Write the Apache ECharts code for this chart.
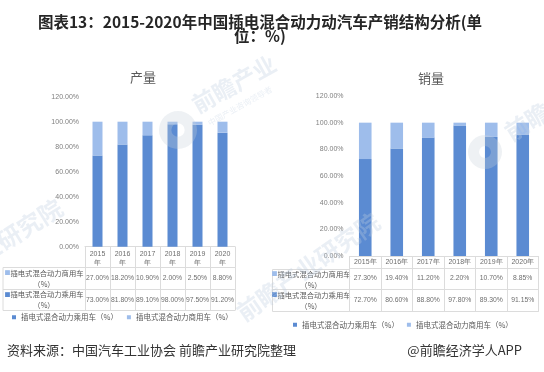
<!DOCTYPE html>
<html><head><meta charset="utf-8">
<script src="https://cdn.jsdelivr.net/npm/echarts@6/dist/echarts.min.js"></script>
<style>html,body{margin:0;padding:0;background:#fff}#c{width:544px;height:372px}</style>
</head><body><div id="c"></div>
<script>
// ---- data ----
const years = ['2015', '2016', '2017', '2018', '2019', '2020'];
const seriesNames = ['插电式混合动力乘用车（%）', '插电式混合动力商用车（%）'];
const prodPassenger = [73.0, 81.8, 89.1, 98.0, 97.5, 91.2];
const prodCommercial = [27.0, 18.2, 10.9, 2.0, 2.5, 8.8];
const salesPassenger = [72.7, 80.6, 88.8, 97.8, 89.3, 91.15];
const salesCommercial = [27.3, 19.4, 11.2, 2.2, 10.7, 8.85];
const yTicks = [0, 20, 40, 60, 80, 100, 120];
const chartTitles = ['产量', '销量'];
const mainTitle = '图表13：2015-2020年中国插电混合动力动汽车产销结构分析(单\n位：%)';
const sourceText = '资料来源：中国汽车工业协会 前瞻产业研究院整理';
const brandText = '@前瞻经济学人APP';
const watermarkText = '前瞻产业研究院';
const watermarkSub = '中国产业咨询领导者';

// ---- style / layout ----
const C_DARK = '#5B8BD2', C_LIGHT = '#9EBDEB';
const NUMF = "'Liberation Sans',Arial,sans-serif";
const CJKF = "'Noto Sans CJK SC',sans-serif";
const LINE = '#dcdcdc';
const panels = [
  {left: 85, top: 96.7, width: 150, height: 150, rows: [20.5, 42.5, 63.5], labelLeft: 3,
   yearFmt: y => y + '\n年', yearMargin: 3, valMargins: [7, 7.5], labelX: 44, titleX: 143, titleY: 77,
   legendLeft: 12, legendTop: 313.5, legendGap: 9, pas: prodPassenger, com: prodCommercial},
  {left: 349.5, top: 96, width: 189, height: 160, rows: [12.5, 33.3, 55], labelLeft: 272.5,
   yearFmt: y => y + '年', yearMargin: 2, valMargins: [6, 7.5], labelX: 311, titleX: 431, titleY: 78,
   legendLeft: 293, legendTop: 321, legendGap: 8, pas: salesPassenger, com: salesCommercial}
];
const fmt = v => v.toFixed(2) + '%';

const grids = [], xAxes = [], yAxes = [], series = [], legends = [], graphics = [];
panels.forEach((p, gi) => {
  grids.push({left: p.left, top: p.top, width: p.width, height: p.height});
  yAxes.push({
    gridIndex: gi, type: 'value', min: yTicks[0], max: yTicks[yTicks.length - 1], interval: yTicks[1] - yTicks[0],
    axisLine: {show: false}, axisTick: {show: false}, splitLine: {show: false},
    axisLabel: {formatter: v => v.toFixed(2) + '%', fontSize: 7, color: '#808080', fontFamily: NUMF, margin: 6}
  });
  const base = xAxes.length;
  const axLine = {show: true, lineStyle: {color: LINE, width: 1}};
  xAxes.push({
    gridIndex: gi, type: 'category', data: years, position: 'bottom', offset: 0,
    axisLine: axLine, axisTick: {show: true, interval: 0, length: p.rows[0], lineStyle: {color: LINE}},
    axisLabel: {interval: 0, formatter: p.yearFmt, fontSize: 7, lineHeight: 9, color: '#6e6e6e', fontFamily: NUMF, margin: p.yearMargin}
  });
  const rowVals = [p.com, p.pas];
  rowVals.forEach((vals, ri) => {
    xAxes.push({
      gridIndex: gi, type: 'category', data: years, position: 'bottom', offset: p.rows[ri],
      axisLine: axLine, axisTick: {show: true, interval: 0, length: p.rows[ri + 1] - p.rows[ri], lineStyle: {color: LINE}},
      axisLabel: {interval: 0, formatter: (v, i) => fmt(vals[i]), fontSize: 6.8, color: '#6e6e6e', fontFamily: NUMF, margin: p.valMargins[ri]}
    });
  });
  xAxes.push({
    gridIndex: gi, type: 'category', data: years, position: 'bottom', offset: p.rows[2],
    axisLine: axLine, axisTick: {show: false}, axisLabel: {show: false}
  });
  series.push({name: seriesNames[0], type: 'bar', stack: 's' + gi, xAxisIndex: base, yAxisIndex: gi,
    data: p.pas, barWidth: '40%', itemStyle: {color: C_DARK}, silent: true});
  series.push({name: seriesNames[1], type: 'bar', stack: 's' + gi, xAxisIndex: base, yAxisIndex: gi,
    data: p.com, barWidth: '40%', itemStyle: {color: C_LIGHT}, silent: true});
  legends.push({left: p.legendLeft, top: p.legendTop, padding: 0, itemWidth: 4, itemHeight: 4, itemGap: p.legendGap,
    icon: 'rect', data: seriesNames, textStyle: {fontSize: 7.5, color: '#595959', fontFamily: CJKF}});
  graphics.push({type: 'text', x: p.titleX, y: p.titleY, style: {text: chartTitles[gi], fontSize: 13, fill: '#595959',
    fontFamily: CJKF, textAlign: 'center', textVerticalAlign: 'middle'}});
  const axisY = p.top + p.height;
  const ys = p.rows.map(r => Math.round(axisY + r) + 0.5);
  ys.forEach(y => graphics.push({type: 'line', shape: {x1: p.labelLeft, y1: y, x2: p.left, y2: y}, style: {stroke: LINE, lineWidth: 1}}));
  graphics.push({type: 'line', shape: {x1: p.labelLeft, y1: ys[0], x2: p.labelLeft, y2: ys[2]}, style: {stroke: LINE, lineWidth: 1}});
  [[seriesNames[1], C_LIGHT], [seriesNames[0], C_DARK]].forEach(([nm, col], ri) => {
    const yc = (ys[ri] + ys[ri + 1]) / 2;
    const parts = nm.split('（');
    graphics.push({type: 'text', x: p.labelX, y: yc, style: {
      text: '{m|■}' + parts[0] + '\n（' + parts[1], fontSize: 7.3, lineHeight: 11, fill: '#595959', fontFamily: CJKF,
      textAlign: 'center', textVerticalAlign: 'middle',
      rich: {m: {fill: col, fontSize: 6, fontFamily: CJKF}}}});
  });
});

// watermarks (faint, on top)
const WM = 'rgba(190,204,224,0.32)';
const wmTexts = [
  {x: 234, y: 84, text: '前瞻产业', size: 23, rot: 0.51},
  {x: -11, y: 250, text: watermarkText, size: 24, rot: 0.56},
  {x: 578, y: 90, text: watermarkText, size: 24, rot: 0.56},
  {x: 308, y: 267, text: watermarkText, size: 24, rot: 0.61}
];
wmTexts.forEach(w => graphics.push({type: 'text', x: w.x, y: w.y, rotation: w.rot, z: 100, silent: true,
  style: {text: w.text, fontSize: w.size, fontWeight: 'bold', fill: WM, fontFamily: CJKF, textAlign: 'center', textVerticalAlign: 'middle'}}));
graphics.push({type: 'text', x: 240, y: 106, rotation: 0.51, z: 100, silent: true,
  style: {text: watermarkSub, fontSize: 8, fill: WM, fontFamily: CJKF, textAlign: 'center', textVerticalAlign: 'middle'}});
[[178, 130, 19], [485, 152, 17]].forEach(([cx, cy, r]) => graphics.push({type: 'ring', z: 100, silent: true,
  shape: {cx: cx, cy: cy, r: r, r0: r * 0.35}, style: {fill: 'rgba(200,208,220,0.3)'}}));

graphics.push({type: 'text', x: 260, y: 29, style: {text: mainTitle, fontSize: 15.5, fontWeight: 'bold', lineHeight: 14,
  fill: '#262626', fontFamily: CJKF, textAlign: 'center', textVerticalAlign: 'middle'}});
graphics.push({type: 'text', x: 7, y: 350, style: {text: sourceText, fontSize: 13, fill: '#333', fontFamily: CJKF, textVerticalAlign: 'middle'}});
graphics.push({type: 'text', x: 522, y: 350, style: {text: brandText, fontSize: 13, fill: '#333', fontFamily: CJKF, textAlign: 'right', textVerticalAlign: 'middle'}});

const chart = echarts.init(document.getElementById('c'), null, {renderer: 'canvas'});
chart.setOption({
  animation: false, backgroundColor: '#fff',
  grid: grids, xAxis: xAxes, yAxis: yAxes, series: series, legend: legends, graphic: graphics
});
</script></body></html>
